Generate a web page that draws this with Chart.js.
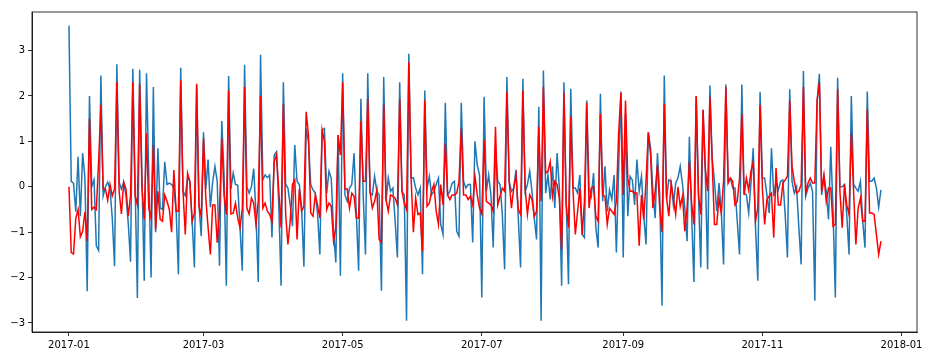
<!DOCTYPE html>
<html>
<head>
<meta charset="utf-8">
<script src="https://cdn.jsdelivr.net/npm/chart.js@4/dist/chart.umd.min.js"></script>
<style>
  html, body { margin: 0; padding: 0; background: #fff; }
  #grafico { display: block; }
</style>
</head>
<body>
<canvas id="grafico" width="932" height="361"></canvas>
<script>
// Serie real (azul) y serie modelada (roja), un valor por día desde 2017-01-01
const serieAzul = [
  3.55, 0.12, 0.08, -0.55, 0.66, -0.65, 0.74, 0.2, -2.3, 2.0,
  0.0, 0.15, -1.3, -1.4, 2.45, -0.2, 0.0, 0.1, -0.05, -0.7,
  -1.75, 2.7, 0.1, -0.05, 0.1, -0.2, -0.8, -1.65, 2.6, 0.05,
  -2.45, 2.58, 0.25, -2.07, 2.5, 0.25, -2.0, 2.2, -1.0, 0.85,
  -0.47, -0.5, 0.55, 0.05, 0.08, 0.05, -0.03, -0.55, -1.93, 2.62,
  -0.1, -0.2, 0.2, 0.12, -0.75, -1.78, 2.23, -0.4, -1.09, 1.2,
  -0.05, 0.6, -0.45, 0.1, 0.45, 0.12, -1.74, 1.45, 0.26, -2.18,
  2.44, -0.05, 0.3, 0.05, 0.03, -0.9, -1.85, 2.69, 0.0, -0.14,
  0.0, 0.4, -0.6, -2.1, 2.91, 0.15, 0.26, 0.2, 0.26, -1.12,
  0.7, 0.77, -0.4, -2.18, 2.3, 0.05, -0.03, -0.4, -0.87, 0.92,
  0.12, 0.05, -0.47, -1.76, 1.28, 1.0, 0.05, -0.07, -0.14, -0.6,
  -1.49, 1.25, 1.28, -0.14, 0.34, 0.19, -0.98, -1.67, 1.14, -1.96,
  2.5, -0.18, -0.32, -0.03, 0.05, 0.74, -0.61, -1.85, 1.94, -0.18,
  -1.49, 2.5, -0.14, -0.18, 0.23, -0.1, -0.18, -2.29, 2.42, -0.32,
  0.19, -0.1, -0.03, -0.75, -1.56, 2.3, -0.1, -0.18, -2.95, 2.93,
  0.19, 0.2, -0.03, -0.18, -0.03, -1.93, 2.12, -0.03, 0.23, -0.18,
  -0.1, 0.05, 0.19, -0.83, -1.05, 1.85, -0.18, -0.1, 0.08, 0.12,
  -0.98, -1.09, 1.85, 0.12, -0.03, 0.05, 0.05, -1.23, 1.0, 0.48,
  0.26, -2.44, 1.98, -0.1, 0.26, -0.18, -1.34, 0.77, 0.12,
  0.05, -0.61, -1.82, 2.42, 0.12, -0.1, -0.03, 0.37, -0.69, -1.78,
  2.38, -0.1, 0.05, 0.34, -0.1, -0.69, -1.16, 1.76, -2.95, 2.56,
  -0.14, 0.26, -0.28, 0.45, -0.47, 0.74, -0.03, -2.18, 2.3, -0.32,
  -2.15, 2.16, -0.03, -0.03, -0.14, 0.26, -1.05, -1.12, 1.9, -0.03,
  -0.21, 0.3, -0.9, -1.34, 2.05, -0.32, 0.45, -0.54, -0.07,
  -0.28, 0.26, -1.45, 0.4, 2.1, -1.56, 1.6, -0.65, 0.23, 0.15,
  -0.4, 0.6, -0.1, 0.23, -0.65, -1.27, 1.2, 0.85, -0.1, -0.69,
  0.74, -0.18, -2.62, 2.45, -0.25, 0.15, 0.12, -0.4, 0.08,
  0.19, 0.45, 0.05, -0.47, -1.2, 1.1, -0.65, -2.1, 2.0, -0.18,
  -1.78, 1.7, 0.3, -1.82, 2.23, 0.63, 0.12, -0.54, 0.08, -0.54,
  -1.71, 2.25, 0.12, 0.19, -0.03, -0.03, -0.76, -1.49, 2.25, -0.14,
  -0.18, -0.58, 0.08, 0.85, -0.9, -2.07, 2.09, 0.19, 0.19, -0.18,
  -0.58, 0.85, -0.21, 0.12, -0.07, 0.12, 0.15, -0.61, -1.56, 2.15,
  0.12, -0.14, 0.0, -0.9, -1.71, 2.55, -0.21, -0.03, 0.08,
  -0.1, -2.51, 1.87, 2.49, -0.18, 0.23, -0.1, -0.72, 0.88, -0.54,
  -2.44, 2.4, 0.0, 0.0, 0.05, -0.61, -1.49, 2.0, 0.05, -0.03,
  -0.1, 0.12, -0.76, -1.34, 2.1, 0.12, 0.12, 0.19, -0.03, -0.45,
  -0.07
];

const serieRoja = [
  0.0, -1.45, -1.48, -0.7, -0.5, -1.1, -0.98, -0.55, -1.2, 1.5,
  -0.5, -0.45, -0.5, 0.55, 1.8, -0.05, -0.05, -0.3, 0.05, -0.2,
  -0.05, 2.3, -0.1, -0.6, 0.1, -0.05, -0.65, -0.2, 2.3, -0.2,
  -0.4, 2.27, 0.0, -0.72, 1.18, -0.47, -0.69, 0.92, -0.94, -0.1,
  -0.72, -0.76, -0.18, -0.32, -0.5, -1.0, 0.37, -0.54, -0.54, 2.34,
  -0.1, -1.05, 0.3, 0.12, -0.76, -0.58, 2.27, -0.43, -0.65, 1.07,
  -0.25, -0.9, -1.49, -0.4, -0.4, -1.23, -0.54, 1.07, -0.18, -0.61,
  2.12, -0.6, -0.58, -0.36, -0.69, -0.9, -0.47, 2.2, -0.47, -0.6,
  -0.25, -0.36, -0.83, -0.32, 2.0, -0.47, -0.36, -0.54, -0.61, -0.76,
  0.55, 0.7, -0.1, -0.9, 1.83, -0.6, -1.27, -0.75, 0.05, 0.15,
  -1.16, -0.05, -0.54, -0.43, 1.65, 1.14, -0.58, -0.65, -0.18, -0.4,
  -0.69, 1.25, 1.0, -0.5, -0.36, -0.43, -1.2, -0.9, 1.14, 0.7,
  2.3, -0.05, -0.05, -0.47, -0.14, -0.21, -0.69, -0.69, 1.45, 0.12,
  0.12, 1.94, -0.1, -0.47, -0.32, -0.07, -1.16, -1.23, 1.81, -0.28,
  -0.54, -0.18, -0.21, -0.25, -0.4, 1.94, -0.1, -0.36, -0.5, 2.74,
  0.2, -1.0, -0.25, -0.61, -0.58, -1.42, 1.9, -0.43, -0.36, -0.1,
  0.05, -0.54, -0.83, 0.05, -0.4, 0.96, -0.18, -0.28, -0.18, -0.18,
  -0.14, 0.12, 1.28, -0.18, -0.18, -0.28, -0.21, -0.4, 0.23, -0.18,
  -0.47, -0.6, 1.03, -0.32, -0.36, -0.4, -0.54, 1.32, -0.4,
  -0.21, -0.03, -0.1, 2.09, 0.12, -0.47, -0.03, 0.26, -0.5, -0.61,
  2.12, -0.03, -0.61, -0.18, -0.28, -0.65, -0.54, 1.32, -0.32, 2.2,
  0.3, 0.34, 0.55, -0.21, 0.12, 0.05, -0.25, -1.38, 2.07, -0.4,
  -0.9, 1.54, -0.1, -1.05, -0.54, -0.03, -1.05, -0.32, 1.85, -0.47,
  -0.03, 0.0, -0.65, -0.76, 1.61, -0.18, -0.21, -0.83, -0.47,
  -0.54, -0.61, -0.32, 1.2, 2.07, -0.18, 1.9, 0.19, -0.1, -0.1,
  -0.14, -0.14, -1.3, -0.18, -0.72, 0.12, 1.2, 0.7, -0.47, -0.1,
  0.48, -0.47, -1.0, 1.83, -0.25, -0.65, 0.08, -0.25, -0.61,
  0.0, -0.43, -0.21, -0.98, -0.47, 0.55, -0.36, -0.83, 2.0, -0.18,
  -0.61, 1.69, 0.41, -0.1, 1.98, 0.55, -0.83, -0.83, -0.25, -0.58,
  0.12, 2.2, 0.08, 0.19, 0.12, -0.4, -0.32, 0.19, 1.61, -0.18,
  0.19, -0.07, 0.34, 0.55, -0.76, -0.47, 1.8, -0.03, -0.83, -0.28,
  -0.21, -0.14, -1.12, 0.41, -0.4, -0.4, 0.08, 0.15, 0.23, 1.9,
  0.45, 0.12, -0.14, -0.1, 0.05, 2.2, -0.14, 0.08, 0.19,
  0.08, 0.08, 1.9, 2.3, -0.1, 0.26, -0.32, -0.03, -0.03, -0.87,
  -0.83, 2.15, -0.1, -0.9, 0.05, -0.4, -0.61, 1.18, -0.1, -1.27,
  -0.47, -0.25, -0.76, -0.76, 1.71, -0.58, -0.58, -0.61, -1.05, -1.49,
  -1.2
];

// Marcas del eje X (día del año) y sus etiquetas
const diasMarca   = [0, 59, 120, 181, 243, 304, 365];
const textosMarca = ['2017-01', '2017-03', '2017-05', '2017-07', '2017-09', '2017-11', '2018-01'];
// Marcas del eje Y
const marcasY = [-3, -2, -1, 0, 1, 2, 3];

const puntosAzul = serieAzul.map((v, i) => ({ x: i, y: v }));
const puntosRoja = serieRoja.map((v, i) => ({ x: i, y: v }));

// Cierra el recuadro (bordes superior y derecho, como en matplotlib)
const marcoCompleto = {
    id: 'marcoCompleto',
    afterDraw(chart) {
        const { ctx, chartArea: a } = chart;
        ctx.save();
        ctx.strokeStyle = '#000';
        ctx.lineWidth = 0.8;
        ctx.strokeRect(a.left, a.top, a.right - a.left, a.bottom - a.top);
        ctx.restore();
    }
};

const fuente = { family: 'DejaVu Sans', size: 10 };

new Chart(document.getElementById('grafico').getContext('2d'), {
    type: 'line',
    data: {
        datasets: [
            {
                data: puntosAzul,
                borderColor: '#1f77b4',
                borderWidth: 1.5,
                pointRadius: 0,
                tension: 0,
                order: 1
            },
            {
                data: puntosRoja,
                borderColor: '#ff0000',
                borderWidth: 1.5,
                pointRadius: 0,
                tension: 0,
                order: 0
            }
        ]
    },
    options: {
        responsive: false,
        animation: false,
        devicePixelRatio: 1,
        layout: { padding: { top: 12, right: 15, left: 0, bottom: 0 } },
        plugins: {
            legend: { display: false },
            tooltip: { enabled: false }
        },
        scales: {
            x: {
                type: 'linear',
                min: -16.2,
                max: 371.8,
                afterBuildTicks: s => { s.ticks = diasMarca.map(v => ({ value: v })); },
                afterFit: s => { s.height = 29; },
                ticks: {
                    autoSkip: false,
                    maxRotation: 0,
                    color: '#000',
                    font: fuente,
                    padding: 3,
                    callback: v => textosMarca[diasMarca.indexOf(v)]
                },
                grid: { drawOnChartArea: false, tickLength: 4, color: '#000', lineWidth: 0.8 },
                border: { color: '#000', width: 0.8 }
            },
            y: {
                min: -3.2,
                max: 3.85,
                afterBuildTicks: s => { s.ticks = marcasY.map(v => ({ value: v })); },
                afterFit: s => { s.width = 32; },
                ticks: {
                    color: '#000',
                    font: fuente,
                    padding: 3,
                    callback: v => (v < 0 ? '\u2212' + Math.abs(v) : String(v))
                },
                grid: { drawOnChartArea: false, tickLength: 4, color: '#000', lineWidth: 0.8 },
                border: { color: '#000', width: 0.8 }
            }
        }
    },
    plugins: [marcoCompleto]
});
</script>
</body>
</html>
